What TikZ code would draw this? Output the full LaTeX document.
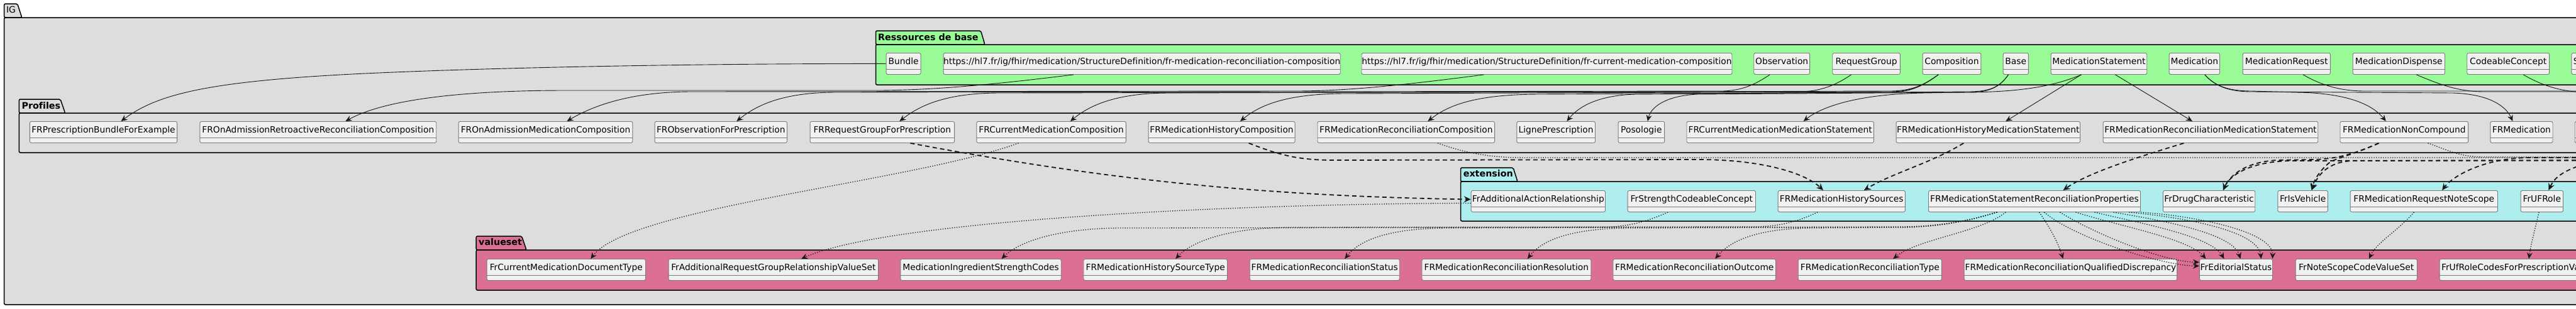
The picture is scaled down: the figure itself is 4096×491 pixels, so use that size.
\documentclass[tikz,border=0pt]{standalone}
\usepackage{fontspec}
\setmainfont{DejaVu Sans}[Ligatures=NoCommon]
\usetikzlibrary{arrows.meta}
\definecolor{igfill}{HTML}{DDDDDD}
\definecolor{resfill}{HTML}{98FB98}
\definecolor{extfill}{HTML}{AFEEEE}
\definecolor{vsfill}{HTML}{DB7093}
\definecolor{clsfill}{HTML}{F1F1F1}
\definecolor{lc}{HTML}{181818}
\definecolor{clsline}{HTML}{7A7A7A}
\begin{document}
\begin{tikzpicture}[x=1pt,y=-1pt,
 pkg/.style={draw=black, line width=1.5pt, rounded corners=2pt},
 pkgtitle/.style={anchor=base west, inner sep=0pt, font=\fontsize{14.3}{16}\selectfont\bfseries},
 cls/.style={draw=clsline, line width=0.9pt, fill=clsfill, rounded corners=2.5pt, anchor=north west,
   inner xsep=0pt, inner ysep=0pt, text height=18pt, text depth=16pt, font=\fontsize{13.8}{16}\selectfont,
   path picture={\draw[clsline, line width=0.9pt] ([yshift=-26pt]path picture bounding box.north west) -- ([yshift=-26pt]path picture bounding box.north east);}},
 clsleft/.style={cls, inner xsep=3pt, align=left},
 gen/.style={draw=lc, line width=0.9pt, -{Stealth[length=10pt,width=9pt,inset=3.5pt]}},
 dep/.style={draw=lc, line width=1.8pt, dash pattern=on 7pt off 5pt, -{Stealth[length=11pt,width=10pt,inset=4pt]}},
 bind/.style={draw=lc, line width=1.3pt, dash pattern=on 1.3pt off 2.4pt, -{Stealth[length=10pt,width=9pt,inset=3.5pt]}}]

\useasboundingbox (0,0) rectangle (4096,491);
\clip (0,0) rectangle (4096,491);
\fill[white] (0,0) rectangle (4096,491);

% ---------- packages ----------
\draw[pkg, fill=igfill] (6.7,28) -- (6.7,6) -- (27.7,6) -- (34.8,28) -- cycle;
\draw[pkg, fill=igfill] (6.7,28) rectangle (4300,485);
\node[anchor=base west, inner sep=0pt, font=\fontsize{14}{16}\selectfont] (lIG) at (9.8,20) {IG};

\draw[pkg, fill=resfill] (1392.6,71) -- (1392.6,49) -- (1559.5,49) -- (1566,71) -- cycle;
\draw[pkg, fill=resfill] (1392.6,71) rectangle (4300,135);
\node[pkgtitle] (lRes) at (1396,64.3) {Ressources de base};

\draw[pkg, fill=igfill] (30.4,180) -- (30.4,158) -- (96,158) -- (103.6,180) -- cycle;
\draw[pkg, fill=igfill] (30.4,180) rectangle (4300,243);
\node[pkgtitle] (lProf) at (34.4,173.3) {Profiles};

\draw[pkg, fill=extfill] (2322.6,289) -- (2322.6,267) -- (2406,267) -- (2413,289) -- cycle;
\draw[pkg, fill=extfill] (2322.6,289) rectangle (4300,352);
\node[pkgtitle] (lExt) at (2326.6,281.7) {extension};

\draw[pkg, fill=vsfill] (757.2,398) -- (757.2,376) -- (829.6,376) -- (837,398) -- cycle;
\draw[pkg, fill=vsfill] (757.2,398) rectangle (4300,462);
\node[pkgtitle] (lVs) at (761,390.7) {valueset};

% ---------- base resources ----------
\node[cls, minimum width=54.9pt] (bundle) at (1408.7,84) {Bundle};
\node[cls, minimum width=629.6pt] (urlrecon) at (1499.7,84) {https://hl7.fr/ig/fhir/medication/StructureDefinition/fr-medication-reconciliation-composition};
\node[cls, minimum width=589pt] (urlcur) at (2164.5,84) {https://hl7.fr/ig/fhir/medication/StructureDefinition/fr-current-medication-composition};
\node[cls, minimum width=88.8pt] (observation) at (2788.3,84) {Observation};
\node[cls, minimum width=107.6pt] (requestgroup) at (2913.3,84) {RequestGroup};
\node[cls, minimum width=92.8pt] (composition) at (3056.6,84) {Composition};
\node[cls, minimum width=40.2pt] (base) at (3184.7,84) {Base};
\node[cls, minimum width=152.7pt] (medstatement) at (3260.6,84) {MedicationStatement};
\node[cls, minimum width=80.3pt] (medication) at (3448.7,84) {Medication};
\node[cls, minimum width=139.3pt] (medrequest) at (3565.6,84) {MedicationRequest};
\node[cls, minimum width=146.4pt] (meddispense) at (3740.6,84) {MedicationDispense};
\node[cls, minimum width=130.8pt] (codeable) at (3922.3,84) {CodeableConcept};
\node[clsleft, text width=150pt] (sbase) at (4088.4,84) {SimpleQuantity};

% ---------- profiles ----------
\node[cls, minimum width=234.3pt] (pbundle) at (46.9,193) {FRPrescriptionBundleForExample};
\node[cls, minimum width=375.9pt] (pretro) at (317.4,193) {FROnAdmissionRetroactiveReconciliationComposition};
\node[cls, minimum width=276.7pt] (ponadm) at (728.7,193) {FROnAdmissionMedicationComposition};
\node[cls, minimum width=210.3pt] (pobs) at (1040.7,193) {FRObservationForPrescription};
\node[cls, minimum width=229.5pt] (preqgrp) at (1287.6,193) {FRRequestGroupForPrescription};
\node[cls, minimum width=237.5pt] (pcurcomp) at (1552.4,193) {FRCurrentMedicationComposition};
\node[cls, minimum width=233pt] (phistcomp) at (1825.6,193) {FRMedicationHistoryComposition};
\node[cls, minimum width=281.6pt] (preccomp) at (2094.5,193) {FRMedicationReconciliationComposition};
\node[cls, minimum width=124.6pt] (pligne) at (2411.4,193) {LignePrescription};
\node[cls, minimum width=73.6pt] (pposo) at (2572.6,193) {Posologie};
\node[cls, minimum width=297.4pt] (pcurms) at (2681.5,193) {FRCurrentMedicationMedicationStatement};
\node[cls, minimum width=292.4pt] (phistms) at (3014.6,193) {FRMedicationHistoryMedicationStatement};
\node[cls, minimum width=341.7pt] (precms) at (3343.6,193) {FRMedicationReconciliationMedicationStatement};
\node[cls, minimum width=203.6pt] (pnoncomp) at (3720.5,193) {FRMedicationNonCompound};
\node[cls, minimum width=99.1pt] (pmed) at (3959.4,193) {FRMedication};
\node[cls, minimum width=150pt] (pclip) at (4093.7,193) {};

% ---------- extensions ----------
\node[cls, minimum width=213.3pt] (eaddrel) at (2338.7,303) {FrAdditionalActionRelationship};
\node[cls, minimum width=203.3pt] (estrength) at (2587.7,303) {FrStrengthCodeableConcept};
\node[cls, minimum width=202.2pt] (ehistsrc) at (2826.7,303) {FRMedicationHistorySources};
\node[cls, minimum width=337pt] (erecprops) at (3066,303) {FRMedicationStatementReconciliationProperties};
\node[cls, minimum width=146.4pt] (edrug) at (3438.9,303) {FrDrugCharacteristic};
\node[cls, minimum width=79.5pt] (evehicle) at (3621.4,303) {FrIsVehicle};
\node[cls, minimum width=234.4pt] (enotescope) at (3736.6,303) {FRMedicationRequestNoteScope};
\node[cls, minimum width=67.4pt] (eufrole) at (4007.6,303) {FrUFRole};

% ---------- valuesets ----------
\node[cls, minimum width=252.3pt] (vcurdoc) at (773.7,412) {FrCurrentMedicationDocumentType};
\node[cls, minimum width=333.6pt] (vaddreq) at (1062.6,412) {FrAdditionalRequestGroupRelationshipValueSet};
\node[cls, minimum width=255.4pt] (vstrength) at (1431.4,412) {MedicationIngredientStrengthCodes};
\node[cls, minimum width=228.5pt] (vhistsrc) at (1722.5,412) {FRMedicationHistorySourceType};
\node[cls, minimum width=238pt] (vstatus) at (1986.8,412) {FRMedicationReconciliationStatus};
\node[cls, minimum width=268.8pt] (vresol) at (2260.5,412) {FRMedicationReconciliationResolution};
\node[cls, minimum width=258.6pt] (voutcome) at (2564.5,412) {FRMedicationReconciliationOutcome};
\node[cls, minimum width=228.1pt] (vtype) at (2858.8,412) {FRMedicationReconciliationType};
\node[cls, minimum width=338.5pt] (vdiscr) at (3122.7,412) {FRMedicationReconciliationQualifiedDiscrepancy};
\node[cls, minimum width=116.1pt] (veditorial) at (3496.9,412) {FrEditorialStatus};
\node[cls, minimum width=193.3pt] (vnotescope) at (3649.6,412) {FrNoteScopeCodeValueSet};
\node[clsleft, text width=320pt] (vufrole) at (3878.6,412) {FrUfRoleCodesForPrescriptionValueSet};

% off-canvas ends
\coordinate (offS1) at (4300,145);
\coordinate (offS2) at (4300,146);
\coordinate (offS3) at (4300,147);
\coordinate (offD1) at (4300,255);
\coordinate (offD2) at (4300,251);
\coordinate (offD3) at (4300,243);
\coordinate (offT1) at (4300,251);
\coordinate (offT2) at (4300,250);

% ---------- generalisation (solid) ----------
\draw[gen] (bundle.west) .. controls (1100,101) and (760,108) .. (560,118) .. controls (330,130) and (250,150) .. ([xshift=28pt]pbundle.north);
\draw[gen] ([xshift=-108.5pt]urlrecon.south) .. controls (1600,132) and (1500,143) .. (1400,144) -- (900,144) .. controls (700,144) and (600,165) .. ([xshift=43.6pt]pretro.north);
\draw[gen] ([xshift=-100pt]urlcur.south) .. controls (2250,133) and (2150,145) .. (2060,145) -- (1100,146) .. controls (1000,146) and (940,170) .. ([xshift=34pt]ponadm.north);
\draw[gen] ([xshift=-19pt]observation.south) .. controls (2790,135) and (2770,144) .. (2740,145) -- (1330,147) .. controls (1240,147) and (1200,170) .. ([xshift=25pt]pobs.north);
\draw[gen] ([xshift=-24pt]requestgroup.south) .. controls (2920,135) and (2895,146) .. (2860,146) -- (1590,148) .. controls (1500,148) and (1460,170) .. ([xshift=27.6pt]preqgrp.north);
\draw[gen] ([xshift=-21.4pt]composition.south) .. controls (3060,135) and (3040,145) .. (3005,145) -- (1860,148) .. controls (1770,148) and (1730,170) .. ([xshift=30.3pt]pcurcomp.north);
\draw[gen] ([xshift=-21.4pt]composition.south) .. controls (3060,135) and (3040,146) .. (3005,146) -- (2140,149) .. controls (2040,149) and (2000,170) .. ([xshift=29.5pt]phistcomp.north);
\draw[gen] ([xshift=-21.4pt]composition.south) .. controls (3060,135) and (3040,147) .. (3005,147) -- (2450,150) .. controls (2340,150) and (2300,170) .. ([xshift=34.6pt]preccomp.north);
\draw[gen] ([xshift=-11.8pt]base.south) .. controls (3180,138) and (3165,146) .. (3130,146) -- (2600,150) .. controls (2540,152) and (2510,170) .. ([xshift=17.2pt]pligne.north);
\draw[gen] ([xshift=-11.8pt]base.south) .. controls (3180,138) and (3165,147) .. (3130,147) -- (2700,150) .. controls (2650,152) and (2625,170) .. ([xshift=10pt]pposo.north);
\draw[gen] ([xshift=-28pt]medstatement.south) .. controls (3260,140) and (3200,147) .. (3120,147) -- (3060,148) .. controls (2940,150) and (2890,175) .. ([xshift=37pt]pcurms.north);
\draw[gen] ([xshift=-28pt]medstatement.south) -- ([xshift=28pt]phistms.north);
\draw[gen] ([xshift=26pt]medstatement.south) -- ([xshift=-29pt]precms.north);
\draw[gen] ([xshift=16.5pt]medication.south) .. controls (3520,135) and (3540,145) .. (3580,145) -- (3650,147) .. controls (3740,148) and (3775,170) .. ([xshift=-29pt]pnoncomp.north);
\draw[gen] ([xshift=16.5pt]medication.south) .. controls (3520,135) and (3540,146) .. (3580,146) -- (3900,148) .. controls (3960,150) and (3985,170) .. ([xshift=-14pt]pmed.north);
\draw[gen] ([xshift=26.3pt]medrequest.south) .. controls (3690,135) and (3720,145) .. (3760,145) -- (offS1);
\draw[gen] ([xshift=28pt]meddispense.south) .. controls (3880,135) and (3910,146) .. (3950,146) -- (offS2);
\draw[gen] ([xshift=24pt]codeable.south) .. controls (4040,135) and (4070,146) .. (4110,147) -- (offS3);

% ---------- dependencies (dashed) ----------
\draw[dep] ([xshift=44.6pt]preqgrp.south) .. controls (1750,285) and (2000,312) .. ([yshift=3pt]eaddrel.west);
\draw[dep] ([xshift=43pt]phistcomp.south) .. controls (2030,245) and (2060,255) .. (2120,255) -- (2700,254) .. controls (2800,254) and (2870,275) .. ([xshift=-29.2pt]ehistsrc.north);
\draw[dep] ([xshift=-39pt]phistms.south) .. controls (3070,260) and (3010,275) .. ([xshift=35.5pt]ehistsrc.north);
\draw[dep] ([xshift=-42.5pt]precms.south) .. controls (3400,250) and (3320,275) .. ([xshift=45.5pt]erecprops.north);
\draw[dep] ([xshift=-40.3pt]pnoncomp.south) .. controls (3750,242) and (3720,253) .. (3680,254) -- (3620,255) .. controls (3570,258) and (3545,280) .. ([xshift=22.3pt]edrug.north);
\draw[dep] ([xshift=-40.3pt]pnoncomp.south) .. controls (3745,245) and (3715,252) .. (3705,258) .. controls (3690,270) and (3680,285) .. ([xshift=14pt]evehicle.north);
\draw[dep] (offD1) -- (3640,256) .. controls (3575,258) and (3545,280) .. ([xshift=22.3pt]edrug.north);
\draw[dep] (offD1) -- (3740,256) .. controls (3700,258) and (3685,280) .. ([xshift=14pt]evehicle.north);
\draw[dep] (offD2) -- (4020,251) .. controls (3950,252) and (3900,280) .. ([xshift=28.8pt]enotescope.north);
\draw[dep] (offD3) .. controls (4100,245) and (4065,275) .. ([xshift=10.7pt]eufrole.north);

% ---------- bindings (dotted) ----------
\draw[bind] ([xshift=-52.2pt]pcurcomp.south) .. controls (1450,290) and (1000,330) .. ([xshift=39pt]vcurdoc.north);
\draw[bind] ([yshift=-3pt]eaddrel.west) .. controls (1900,325) and (1400,355) .. ([xshift=44.4pt]vaddreq.north);
\draw[bind] ([xshift=-37.8pt]estrength.south) .. controls (2620,352) and (2590,362) .. (2540,362) -- (1780,363) .. controls (1680,364) and (1620,385) .. ([xshift=33pt]vstrength.north);
\draw[bind] ([xshift=-38.2pt]ehistsrc.south) .. controls (2860,352) and (2830,361) .. (2790,361) -- (2050,362) .. controls (1950,363) and (1895,385) .. ([xshift=32pt]vhistsrc.north);
\draw[bind] ([xshift=-59.5pt]erecprops.south) .. controls (3130,352) and (3080,361) .. (3020,361) -- (2300,363) .. controls (2200,364) and (2160,385) .. ([xshift=32pt]vstatus.north);
\draw[bind] ([xshift=-59.5pt]erecprops.south) .. controls (3130,352) and (3080,362) .. (3020,362) -- (2590,363) .. controls (2490,364) and (2450,385) .. ([xshift=33.5pt]vresol.north);
\draw[bind] ([xshift=-59.5pt]erecprops.south) .. controls (3130,352) and (3080,362) .. (3020,362) -- (2880,363) .. controls (2790,364) and (2750,385) .. ([xshift=33pt]voutcome.north);
\draw[bind] ([xshift=-45.8pt]erecprops.south) .. controls (3150,370) and (3050,380) .. ([xshift=37pt]vtype.north);
\draw[bind] ([xshift=7.5pt]erecprops.south) .. controls (3258,360) and (3272,385) .. ([xshift=-12pt]vdiscr.north);
\draw[bind] ([xshift=15.5pt]erecprops.south) .. controls (3300,380) and (3440,423) .. ([yshift=6pt]veditorial.west);
\draw[bind] ([xshift=40.5pt]erecprops.south) .. controls (3330,372) and (3440,417) .. ([yshift=12pt]veditorial.west);
\draw[bind] ([xshift=65.5pt]erecprops.south) .. controls (3370,360) and (3480,380) .. ([xshift=-48pt]veditorial.north);
\draw[bind] ([xshift=95.5pt]erecprops.south) .. controls (3400,355) and (3515,375) .. ([xshift=-19pt]veditorial.north);
\draw[bind] ([xshift=125.5pt]erecprops.south) .. controls (3430,350) and (3550,370) .. ([xshift=7pt]veditorial.north);
\draw[bind] ([xshift=150.5pt]erecprops.south) .. controls (3460,345) and (3590,365) .. ([xshift=40pt]veditorial.north);
\draw[bind] (erecprops.south east) .. controls (3500,345) and (3615,370) .. ([xshift=58pt]veditorial.north);
\draw[bind] ([xshift=-15.8pt]enotescope.south) .. controls (3810,370) and (3780,385) .. ([xshift=20pt]vnotescope.north);
\draw[bind] ([xshift=-4.7pt]eufrole.south) .. controls (4032,360) and (4024,390) .. ([xshift=142.4pt]vufrole.north west);
\draw[bind] ([xshift=50.2pt]preccomp.south) .. controls (2320,240) and (2360,251) .. (2420,251) -- (offT1);
\draw[bind] ([xshift=37.7pt]pnoncomp.south) .. controls (3890,238) and (3910,250) .. (3950,250) -- (offT2);
\end{tikzpicture}
\end{document}
